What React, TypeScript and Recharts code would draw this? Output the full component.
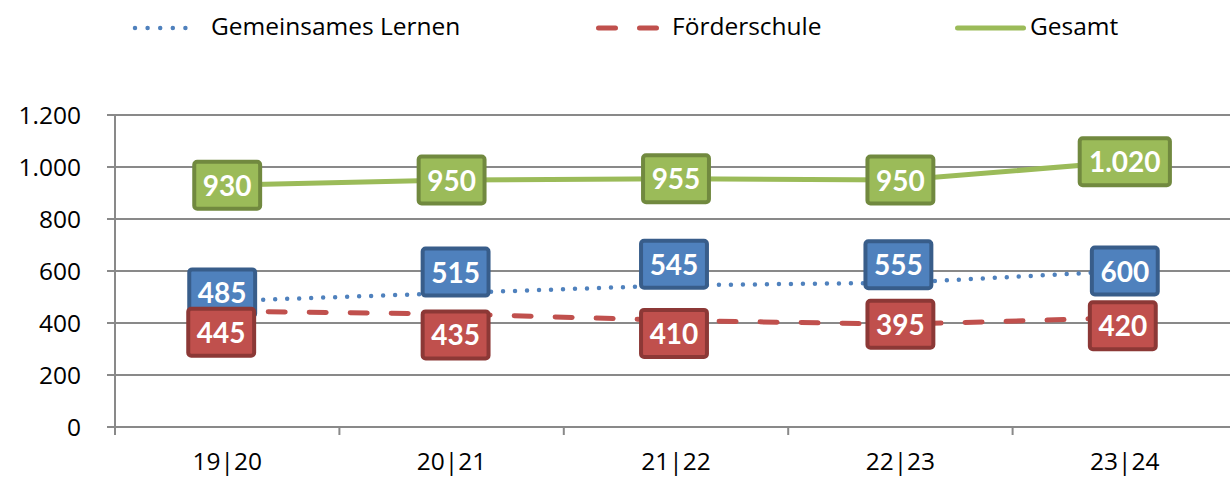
import { ComposedChart, Line, XAxis, YAxis, CartesianGrid, Legend, LabelList } from 'recharts';

const CATEGORIES = ['19|20', '20|21', '21|22', '22|23', '23|24'];
const GEMEINSAM = [485, 515, 545, 555, 600];
const FOERDER = [445, 435, 410, 395, 420];
const GESAMT = [930, 950, 955, 950, 1020];
const Y_TICKS = [0, 200, 400, 600, 800, 1000, 1200];

const BLUE = '#4F81BD';
const BLUE_DARK = '#385D8A';
const RED = '#C0504D';
const RED_DARK = '#8C3836';
const GREEN = '#9BBB59';
const GREEN_DARK = '#71893F';
const GRID = '#898989';
const FONT = '"Open Sans", Lato, sans-serif';
const LABEL_FONT = 'Lato, "Open Sans", sans-serif';
const TXT = 24.5;

// label nudges (dx, dy in px) as placed in the original
const BLUE_SHIFT = [[-5, -8], [4, -21], [-2, -21], [-2, -18], [0, 0]];
const RED_SHIFT = [[-6, 21], [4, 21], [-2, 13], [0, 0], [-2, 8]];

const data = CATEGORIES.map((label, i) => ({
  label,
  gemeinsam: GEMEINSAM[i],
  foerder: FOERDER[i],
  gesamt: GESAMT[i],
}));

function fmt(v: number) {
  const s = String(Math.round(v));
  return s.length > 3 ? `${s.slice(0, -3)}.${s.slice(-3)}` : s;
}

function boxLabel(fill: string, stroke: string, shifts?: number[][]) {
  return (props: any) => {
    const { x, y, value, index } = props;
    if (x == null || y == null) return null;
    const text = fmt(Number(value));
    const digits = text.replace('.', '').length;
    const w = digits * 16.3 + (text.includes('.') ? 8 : 0) + 21;
    const h = 51;
    const [dx, dy] = shifts ? shifts[index] : [0, 0];
    const cx = x + dx;
    const cy = y + dy;
    return (
      <g>
        <rect x={cx - w / 2 + 2} y={cy - h / 2 + 2} width={w - 4} height={h - 4} rx={3}
          fill={fill} stroke={stroke} strokeWidth={4} />
        <text x={cx} y={cy + 10.5} textAnchor="middle" fill="#fff" fontSize={28}
          fontWeight={700} fontFamily={LABEL_FONT}>{text}</text>
      </g>
    );
  };
}

function XTick({ x, y, payload }: any) {
  return (
    <g>
      <line x1={x - 112.2} x2={x - 112.2} y1={y} y2={y + 8} stroke={GRID} strokeWidth={2} />
      <text x={x} y={y + 43} textAnchor="middle" fontSize={TXT} fill="#000" fontFamily={FONT}>
        {payload.value}
      </text>
    </g>
  );
}

function LegendBox() {
  return (
    <svg width={1230} height={50} style={{ position: 'absolute', top: 0, left: 0, overflow: 'visible' }}>
      <line x1={135} x2={198} y1={28} y2={28} stroke={BLUE} strokeWidth={4.5}
        strokeDasharray="0 12.6" strokeLinecap="round" />
      <text x={211} y={35} fontSize={TXT} fontFamily={FONT} fill="#000">Gemeinsames Lernen</text>
      <line x1={598.5} x2={657.5} y1={28} y2={28} stroke={RED} strokeWidth={5}
        strokeDasharray="17 24" strokeLinecap="round" />
      <text x={672} y={35} fontSize={TXT} fontFamily={FONT} fill="#000">Förderschule</text>
      <line x1={957.5} x2={1023.5} y1={28} y2={28} stroke={GREEN} strokeWidth={5} strokeLinecap="round" />
      <text x={1030} y={35} fontSize={TXT} fontFamily={FONT} fill="#000">Gesamt</text>
    </svg>
  );
}

export default function App() {
  return (
    <div style={{ position: 'absolute', top: 0, left: 0, width: 1230, height: 477, overflow: 'hidden', background: '#fff' }}>
      <ComposedChart width={1240} height={477} data={data}
        margin={{ top: 115, right: 3, bottom: 0, left: 0 }} style={{ fontFamily: FONT }}>
        <CartesianGrid vertical={false} stroke={GRID} strokeWidth={2} />
        <XAxis dataKey="label" type="category" padding={{ left: 112.2, right: 112.2 }}
          axisLine={{ stroke: GRID, strokeWidth: 2 }} tickLine={false} tickSize={0} tickMargin={0}
          height={50} interval={0} tick={<XTick />} />
        <YAxis domain={[0, 1200]} ticks={Y_TICKS} width={115} interval={0}
          tickSize={8} tickMargin={26} tickFormatter={fmt}
          axisLine={{ stroke: GRID, strokeWidth: 2 }} tickLine={{ stroke: GRID, strokeWidth: 2 }}
          tick={{ fontSize: TXT, fill: '#000', fontFamily: FONT }} />
        <Legend verticalAlign="top" content={() => <LegendBox />}
          wrapperStyle={{ top: 0, left: 0, width: 1230, height: 0 }} />
        <Line type="linear" dataKey="gemeinsam" stroke={BLUE} strokeWidth={4.5} strokeDasharray="0 12"
          strokeLinecap="round" dot={false} activeDot={false} isAnimationActive={false}>
          <LabelList dataKey="gemeinsam" content={boxLabel(BLUE, BLUE_DARK, BLUE_SHIFT)} />
        </Line>
        <Line type="linear" dataKey="foerder" stroke={RED} strokeWidth={5} strokeDasharray="17 24"
          strokeLinecap="round" dot={false} activeDot={false} isAnimationActive={false}>
          <LabelList dataKey="foerder" content={boxLabel(RED, RED_DARK, RED_SHIFT)} />
        </Line>
        <Line type="linear" dataKey="gesamt" stroke={GREEN} strokeWidth={5}
          dot={false} activeDot={false} isAnimationActive={false}>
          <LabelList dataKey="gesamt" content={boxLabel(GREEN, GREEN_DARK)} />
        </Line>
      </ComposedChart>
    </div>
  );
}
